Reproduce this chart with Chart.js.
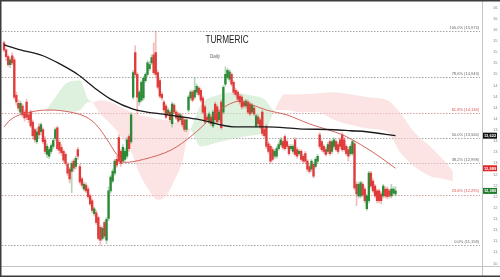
<!DOCTYPE html>
<html>
<head>
<meta charset="utf-8">
<title>Turmeric Daily</title>
<script src="https://cdn.jsdelivr.net/npm/chart.js"></script>
<style>
  html, body { margin: 0; padding: 0; background: #fff; }
  #wrap { width: 500px; height: 280px; }
</style>
</head>
<body>
<div id="wrap"><canvas id="turmericChart" width="500" height="280"></canvas></div>
<script>
// Daily candles, one entry per trading day (day 0 = first session of January)
const opens = [
  15710,15550,15400,15220,15420,15330,14530,14350,14150,14290,
  14150,14380,14090,14150,13930,13760,13490,13820,13710,13760,
  13530,13200,13160,13270,13380,13560,13800,13470,13360,13270,
  13200,12980,12870,12820,13050,12930,13310,12930,12650,12420,
  12510,12420,12270,12160,11870,11890,11780,11560,11310,11670,
  11270,11760,12380,12600,12780,13090,13580,13270,13050,13090,
  13160,13600,13490,14490,15490,15000,14380,14420,14470,14860,
  15000,15130,15260,15440,15490,15040,14860,14550,14380,14290,
  14110,14150,13890,14310,14150,14110,13980,14040,13980,13760,
  14200,14470,14600,14490,14600,14690,14640,14470,14270,14040,
  13930,14040,13840,14330,14270,13980,14380,14150,14780,14930,
  14890,15000,14820,14640,14600,14510,14490,14380,14290,14380,
  14330,14150,14240,13840,14040,13980,14150,13760,13820,13440,
  13380,13310,13160,13160,13330,13420,13490,13600,13490,13380,
  13330,13270,13530,13310,13220,13270,13160,13220,13050,12930,
  12870,12980,12930,13050,13640,13490,13380,13310,13270,13490,
  13270,13380,13490,13420,13530,13640,13530,13380,13310,13220,
  13220,13440,12530,12270,12270,12530,12420,11980,12160,12780,
  12600,12490,12380,12380,12310,12270,12420,12420,12380,12270,
  12330,12310
];
const highs = [
  15750,15570,15440,15380,15490,15380,14600,14420,14400,14330,
  14200,14440,14150,14200,13980,13800,13780,13890,13910,13800,
  13600,13440,13360,13440,13560,13800,13840,13510,13420,13310,
  13240,13020,12910,13050,13090,13160,13360,12980,12690,12580,
  12560,12470,12310,12200,12020,11940,11820,11600,11580,11710,
  11780,12470,12730,12870,13090,13160,13640,13310,13420,13330,
  13580,13640,14130,15090,15640,15040,14640,14860,14950,15040,
  15310,15290,15440,15710,15974,15090,14910,14600,14420,14330,
  14240,14200,14380,14350,14200,14150,14130,14090,14020,14020,
  14530,14640,14640,14930,14780,14730,14690,14510,14310,14090,
  14150,14090,14200,14380,14310,14200,14420,14750,15170,15130,
  15110,15040,14860,14690,14640,14550,14530,14420,14440,14420,
  14380,14350,14290,14110,14090,14020,14200,13800,13870,13490,
  13420,13360,13310,13380,13470,13580,13530,13640,13530,13420,
  13420,13420,13580,13360,13310,13310,13200,13270,13090,12980,
  13090,13020,13130,13200,13690,13530,13420,13360,13470,13530,
  13530,13580,13530,13470,13580,13690,13580,13420,13360,13420,
  13530,13490,12580,12580,12600,12580,12470,12310,12820,12820,
  12650,12530,12420,12420,12360,12530,12470,12470,12420,12530,
  12470,12470
];
const lows = [
  15510,15310,15180,15150,15220,14440,14310,14180,14110,14040,
  13950,13980,13910,13800,13580,13470,13440,13580,13640,13440,
  13220,13130,13110,13220,13330,13510,13290,13220,13180,13020,
  12960,12730,12560,12340,12820,12870,13090,12530,12450,12380,
  12340,12200,12050,11890,11820,11620,11270,11158,11270,11310,
  11200,11710,12330,12560,12730,12910,13000,12930,13000,13050,
  13110,13270,13440,14440,14950,14110,14310,14380,14420,14820,
  14950,15090,15220,15000,14950,14670,14470,14420,14150,14000,
  14070,13930,13820,14110,13980,13910,13930,13820,13710,13710,
  14150,14420,14380,14440,14550,14510,14380,14110,13890,13930,
  13890,13840,13800,13930,13890,13930,13760,14110,14730,14890,
  14840,14730,14550,14510,14400,14330,14220,14240,14240,14110,
  14070,14110,14070,13800,13840,13780,13620,13580,13330,13220,
  13000,13050,13110,13110,13290,13380,13310,13290,13330,13180,
  13290,13220,13160,13110,13180,13050,13000,13000,12820,12780,
  12820,12670,12890,13000,13330,13270,13220,13160,13220,13180,
  13220,13330,13270,13220,13330,13270,13270,13180,13050,13180,
  13180,12400,12050,12220,12220,12250,12110,11940,12110,12450,
  12340,12220,12110,12110,12090,12220,12220,12200,12220,12220,
  12290,12270
];
const closes = [
  15550,15400,15220,15330,15260,14490,14380,14240,14350,14090,
  14020,14040,13980,13840,13620,13530,13710,13640,13870,13490,
  13270,13380,13310,13400,13510,13760,13330,13290,13240,13070,
  13000,12780,12650,13000,12890,13110,13160,12580,12510,12530,
  12380,12250,12090,11940,11980,11670,11310,11270,11540,11360,
  11740,12380,12690,12820,13050,12960,13050,13000,13360,13270,
  13530,13330,14090,15040,15000,14490,14600,14820,14910,15000,
  15260,15220,15380,15040,15000,14710,14510,14470,14200,14040,
  14200,13980,14330,14150,14020,13950,14090,13870,13760,13980,
  14490,14600,14420,14640,14730,14550,14420,14150,13930,13980,
  14110,13890,14150,13980,13930,14150,13800,14710,15000,15090,
  15060,14780,14600,14550,14440,14380,14270,14290,14400,14150,
  14110,14310,14110,14070,13890,13820,13670,13620,13380,13270,
  13050,13090,13270,13330,13420,13530,13360,13330,13380,13220,
  13380,13380,13200,13160,13270,13090,13050,13050,12870,12820,
  13050,12710,13090,13160,13380,13310,13270,13200,13420,13220,
  13490,13530,13310,13270,13380,13310,13310,13220,13160,13380,
  13490,12450,12310,12530,12560,12290,12160,12270,12780,12490,
  12380,12270,12160,12160,12160,12490,12270,12250,12270,12420,
  12420,12380
];

// Moving averages (day index, value)
const maLongDays = [0, 8, 19, 27, 36, 42, 45, 52, 63, 80, 96, 112, 128, 144, 161, 169, 177, 191];
const maLongValues = [15663, 15552, 15419, 15241, 14997, 14776, 14665, 14443, 14221, 14088, 13976, 13821, 13821, 13777, 13755, 13733, 13710, 13622];
const maShortDays = [0, 3, 13, 22, 32, 40, 45, 50, 55, 59, 68, 82, 91, 96, 104, 110, 115, 120, 128, 138, 149, 158, 165, 174, 183, 191];
const maShortValues = [13821, 13977, 14154, 14199, 14154, 14043, 13866, 13555, 13200, 13022, 13089, 13311, 13600, 13799, 14154, 14332, 14398, 14332, 14199, 14088, 13888, 13755, 13644, 13422, 13156, 12889];

// Ichimoku cloud edges (day index, leading span A, leading span B)
const cloudDays = [20, 25, 31, 37, 41, 43, 47, 52, 57, 62, 66, 71, 75, 79, 83, 87, 89, 91, 96, 104, 112, 120, 127, 132, 137, 144, 153, 160, 169, 178, 187, 193, 200, 208, 215, 219];
const spanA = [14154, 14487, 14820, 14864, 14443, 14376, 14110, 13888, 13599, 13267, 12778, 12379, 12179, 12268, 12601, 13045, 13488, 13755, 14309, 14531, 14598, 14531, 14443, 14199, 14199, 14154, 14154, 13999, 13866, 13777, 13710, 13267, 12934, 12712, 12645, 12601];
const spanB = [14154, 14199, 14154, 14199, 14376, 14376, 14420, 14376, 14265, 14154, 14088, 14043, 13999, 13977, 13932, 13888, 13821, 13755, 13378, 13466, 13555, 13621, 13710, 14199, 14553, 14553, 14576, 14598, 14553, 14487, 14420, 14154, 13710, 13378, 13045, 12823];

// Fibonacci retracement levels
const fibNames = ['0.0%', '23.6%', '38.2%', '50.0%', '61.8%', '78.6%', '100.0%'];
const fibPrices = [11158, 12295, 12998, 13566, 14134, 14943, 15974];
const fibRed = [false, true, false, false, true, false, false];

// Axis labels
const monthDays = [20.5, 41.5, 62, 82, 104, 126.5, 150.5, 170.5, 194, 216.5];
const monthNames = ['Feb', 'Mar', 'Apr', 'May', 'Jun', 'Jul', 'Aug', 'Sep', 'Oct', 'Nov'];
const priceTicks = [16500, 16250, 16000, 15750, 15500, 15250, 15000, 14750, 14500, 14250, 14000,
  13750, 13500, 13250, 13000, 12750, 12500, 12250, 12000, 11750, 11500, 11250, 11000, 10750];

const UP = '#2b8a36';
const DOWN = '#e03b3b';
const UP_WICK = 'rgba(43,138,54,0.35)';
const DOWN_WICK = 'rgba(224,59,59,0.35)';
const FONT = 'Liberation Sans';

function fmt(v) {
  return Math.round(v).toLocaleString('en-US');
}

// build candle pieces from the arrays
const bodies = [];
const wicks = [];
const bodyColours = [];
const wickColours = [];
for (let i = 0; i < opens.length; i++) {
  bodies.push({ x: i, y: [opens[i], closes[i]] });
  wicks.push({ x: i, y: [lows[i], highs[i]] });
  const up = closes[i] >= opens[i];
  bodyColours.push(up ? UP : DOWN);
  wickColours.push(up ? UP_WICK : DOWN_WICK);
}

function pairs(days, values) {
  return days.map((d, k) => ({ x: d, y: values[k] }));
}

// fib lines + labels under the candles
const fibPlugin = {
  id: 'fibPlugin',
  beforeDatasetsDraw(chart) {
    const { ctx, chartArea, scales } = chart;
    ctx.save();
    ctx.lineWidth = 1;
    ctx.setLineDash([1.5, 1.5]);
    fibPrices.forEach((p, k) => {
      const y = Math.round(scales.y.getPixelForValue(p)) + 0.5;
      ctx.strokeStyle = fibRed[k] ? '#d6a0a0' : '#a6a6a6';
      ctx.beginPath();
      ctx.moveTo(chartArea.left, y);
      ctx.lineTo(chartArea.right - 2, y);
      ctx.stroke();
    });
    ctx.setLineDash([]);
    ctx.font = '4px "' + FONT + '"';
    ctx.textAlign = 'right';
    ctx.textBaseline = 'bottom';
    fibPrices.forEach((p, k) => {
      const y = scales.y.getPixelForValue(p);
      ctx.fillStyle = fibRed[k] ? '#dd4c4c' : '#666';
      ctx.fillText(fibNames[k] + ' (' + fmt(p) + ')', chartArea.right - 3, y - 1.5);
    });
    ctx.restore();
  }
};

// title, price boxes and frame on top
const overlayPlugin = {
  id: 'overlayPlugin',
  afterDraw(chart) {
    const { ctx, chartArea, scales } = chart;
    ctx.save();
    // narrow title: squeeze the sans font sideways
    ctx.save();
    ctx.translate(227, 40);
    ctx.scale(0.78, 1);
    ctx.fillStyle = '#222';
    ctx.font = '10.5px "' + FONT + '", sans-serif';
    ctx.textAlign = 'center';
    ctx.textBaseline = 'middle';
    ctx.fillText('TURMERIC', 0, 0);
    ctx.restore();
    ctx.fillStyle = '#666';
    ctx.font = '4.5px "' + FONT + '", sans-serif';
    ctx.textAlign = 'center';
    ctx.textBaseline = 'middle';
    ctx.fillText('Daily', 215, 57);

    // axis lines
    ctx.strokeStyle = '#c4c4c4';
    ctx.lineWidth = 1;
    ctx.beginPath();
    ctx.moveTo(0, chartArea.bottom + 0.5);
    ctx.lineTo(500, chartArea.bottom + 0.5);
    ctx.moveTo(chartArea.right + 0.5, 0);
    ctx.lineTo(chartArea.right + 0.5, 276);
    ctx.stroke();

    // last value boxes
    const boxes = [
      [maLongValues[maLongValues.length - 1], '#111'],
      [maShortValues[maShortValues.length - 1], '#e02424'],
      [closes[closes.length - 1], '#1e7d2b']
    ];
    ctx.font = 'bold 4px "' + FONT + '"';
    ctx.textAlign = 'center';
    boxes.forEach(b => {
      const y = scales.y.getPixelForValue(b[0]);
      ctx.fillStyle = b[1];
      ctx.fillRect(chartArea.right + 1, y - 3, 14, 6);
      ctx.fillStyle = '#fff';
      ctx.fillText(fmt(b[0]), chartArea.right + 8, y + 0.3);
    });

    // outer frame: top, left and bottom edges
    ctx.strokeStyle = '#3c3c3c';
    ctx.lineWidth = 1.5;
    ctx.beginPath();
    ctx.moveTo(500, 0.75);
    ctx.lineTo(0.75, 0.75);
    ctx.lineTo(0.75, 276.25);
    ctx.lineTo(500, 276.25);
    ctx.stroke();
    ctx.restore();
  }
};

new Chart(document.getElementById('turmericChart'), {
  type: 'bar',
  data: {
    datasets: [
      {
        label: 'Span B',
        type: 'line',
        data: pairs(cloudDays, spanB),
        borderColor: 'transparent',
        borderWidth: 0,
        pointRadius: 0,
        cubicInterpolationMode: 'monotone',
        fill: false,
        order: 6
      },
      {
        label: 'Span A',
        type: 'line',
        data: pairs(cloudDays, spanA),
        borderColor: 'transparent',
        borderWidth: 0,
        pointRadius: 0,
        cubicInterpolationMode: 'monotone',
        fill: { target: 0, above: 'rgba(205,232,205,0.65)', below: 'rgba(250,205,205,0.55)' },
        order: 5
      },
      {
        label: 'Wicks',
        data: wicks,
        backgroundColor: wickColours,
        barThickness: 1,
        grouped: false,
        order: 4
      },
      {
        label: 'Bodies',
        data: bodies,
        backgroundColor: bodyColours,
        barThickness: 1.7,
        grouped: false,
        order: 3
      },
      {
        label: 'MA long',
        type: 'line',
        data: pairs(maLongDays, maLongValues),
        borderColor: '#1a1a1a',
        borderWidth: 1.3,
        pointRadius: 0,
        cubicInterpolationMode: 'monotone',
        fill: false,
        order: 1
      },
      {
        label: 'MA short',
        type: 'line',
        data: pairs(maShortDays, maShortValues),
        borderColor: '#cf534c',
        borderWidth: 0.9,
        pointRadius: 0,
        cubicInterpolationMode: 'monotone',
        fill: false,
        order: 2
      }
    ]
  },
  options: {
    responsive: false,
    animation: false,
    devicePixelRatio: 1,
    layout: { padding: { left: 2, right: 2, top: 2, bottom: 4 } },
    plugins: {
      legend: { display: false },
      tooltip: { enabled: false }
    },
    scales: {
      x: {
        type: 'linear',
        min: -1,
        max: 233.2,
        offset: false,
        grid: { display: false },
        border: { display: false },
        afterBuildTicks: s => { s.ticks = monthDays.map(v => ({ value: v })); },
        afterFit: s => { s.height = 10; },
        ticks: {
          autoSkip: false,
          maxRotation: 0,
          padding: 2,
          color: '#666',
          font: { family: FONT, size: 4.5 },
          callback: (v, idx) => monthNames[idx]
        }
      },
      y: {
        position: 'right',
        min: 10692,
        max: 16551,
        grid: { display: false },
        border: { display: false },
        afterBuildTicks: s => { s.ticks = priceTicks.map(v => ({ value: v })); },
        afterFit: s => { s.width = 16; },
        ticks: {
          padding: 3,
          color: '#888',
          font: { family: FONT, size: 4 },
          callback: v => fmt(v)
        }
      }
    }
  },
  plugins: [fibPlugin, overlayPlugin]
});
</script>
</body>
</html>
